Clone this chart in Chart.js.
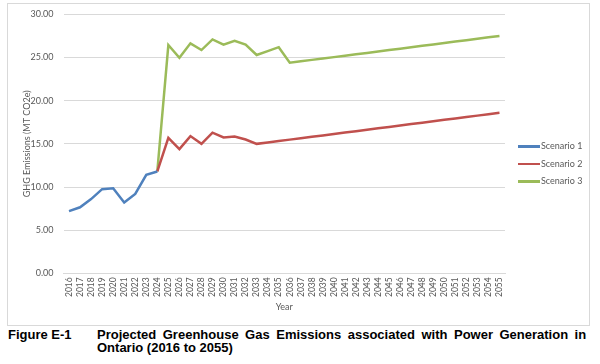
<!DOCTYPE html>
<html>
<head>
<meta charset="utf-8">
<script src="https://cdn.jsdelivr.net/npm/chart.js@4"></script>
<style>
  body { margin:0; width:600px; height:364px; background:#fff; position:relative; overflow:hidden; }
  #frame { position:absolute; left:7px; top:3px; width:581px; height:321px; border:1px solid #d9d9d9; }
  #frame canvas { position:absolute; left:0; top:-5px; }
  .cap { position:absolute; font-family:"Liberation Sans", Arial, sans-serif; font-weight:bold; font-size:13px; color:#000; line-height:13.4px; white-space:nowrap; }
  #legend { position:absolute; left:518px; top:140px; font-family:Lato, sans-serif; font-size:9px; color:#595959; white-space:nowrap; }
  #legend .item { position:relative; height:17.5px; width:70px; line-height:12px; }
  #legend .sw { position:absolute; left:0; top:5px; width:22px; height:2.5px; }
  #legend .lb { position:absolute; left:23px; top:0; }
</style>
</head>
<body>
<div id="frame"><canvas id="myChart" width="581" height="326"></canvas></div>
<div id="legend"></div>
<div class="cap" style="left:8px; top:328px;">Figure E-1</div>
<div class="cap" style="left:97px; top:328px; word-spacing:2.9px;">Projected Greenhouse Gas Emissions associated with Power Generation in</div>
<div class="cap" style="left:97px; top:341.4px;">Ontario (2016 to 2055)</div>
<script>
// years on the x axis
var years = ['2016','2017','2018','2019','2020','2021','2022','2023','2024','2025',
  '2026','2027','2028','2029','2030','2031','2032','2033','2034','2035',
  '2036','2037','2038','2039','2040','2041','2042','2043','2044','2045',
  '2046','2047','2048','2049','2050','2051','2052','2053','2054','2055']

// Scenario 1: 2016 - 2024
var scenario1 = [7.2, 7.65, 8.6, 9.75, 9.85, 8.2, 9.2, 11.4, 11.8]
// Scenario 2: 2024 - 2055
var scenario2 = [11.8, 15.7, 14.4, 15.9, 15.0, 16.3, 15.75, 15.85, 15.5, 15.0,
  15.16, 15.33, 15.49, 15.65, 15.82, 15.98, 16.15, 16.31, 16.47, 16.64, 16.8,
  16.96, 17.13, 17.29, 17.45, 17.62, 17.78, 17.95, 18.11, 18.27, 18.44, 18.6]
// Scenario 3: 2024 - 2055
var scenario3 = [11.8, 26.45, 24.98, 26.65, 25.87, 27.1, 26.5, 26.95, 26.5, 25.3,
  25.75, 26.2, 24.4, 24.56, 24.73, 24.89, 25.05, 25.22, 25.38, 25.54, 25.71,
  25.87, 26.03, 26.19, 26.36, 26.52, 26.68, 26.85, 27.01, 27.17, 27.34, 27.5]

var startIdx = years.indexOf('2024')
function pad(vals){
  var out = []
  for(var i=0;i<startIdx;i++) out.push(null)
  return out.concat(vals)
}

const ctx = document.getElementById('myChart')
const grey = '#595959'
const chart = new Chart(ctx, {
  type: 'line',
  data: {
    labels: years,
    datasets: [
      { label:'Scenario 1', data: scenario1, borderColor:'#4F81BD', borderWidth:2.5, pointRadius:0, tension:0 },
      { label:'Scenario 2', data: pad(scenario2), borderColor:'#C0504D', borderWidth:2.5, pointRadius:0, tension:0 },
      { label:'Scenario 3', data: pad(scenario3), borderColor:'#9BBB59', borderWidth:2.5, pointRadius:0, tension:0 }
    ]
  },
  options: {
    responsive: false,
    animation: false,
    layout: { padding: { top: 0, right: 84, left: 0, bottom: 0 } },
    plugins: {
      tooltip: { enabled:false },
      legend: { display:false }
    },
    scales: {
      x: {
        offset: true,
        afterFit: function(s){ s.height = 51.7 },
        grid: { display:false, drawTicks:false },
        border: { color:'#d9d9d9' },
        ticks: { color:grey, font:{ family:'Lato', size:8.5 }, minRotation:90, maxRotation:90, autoSkip:false, padding:4 },
        title: { display:true, text:'Year', color:grey, font:{ family:'Lato', size:9 }, padding:{top:0,bottom:13} }
      },
      y: {
        min: 0, max: 30,
        afterFit: function(s){ s.width = 55.5 },
        grid: { color:'#d9d9d9', drawTicks:false },
        border: { display:false },
        ticks: { stepSize:5, color:grey, font:{ family:'Lato', size:9 }, padding:10,
          callback: function(v){ return v.toFixed(2) } },
        title: { display:true, text:'GHG Emissions (MT CO2e)', color:grey, font:{ family:'Lato', size:9 }, padding:{top:14,bottom:0} }
      }
    }
  }
})

// legend built from the chart's datasets
var leg = document.getElementById('legend')
chart.data.datasets.forEach(function(ds){
  var it = document.createElement('div')
  it.className = 'item'
  it.innerHTML = '<span class="sw" style="background:' + ds.borderColor + '"></span><span class="lb">' + ds.label + '</span>'
  leg.appendChild(it)
})
</script>
</body>
</html>
